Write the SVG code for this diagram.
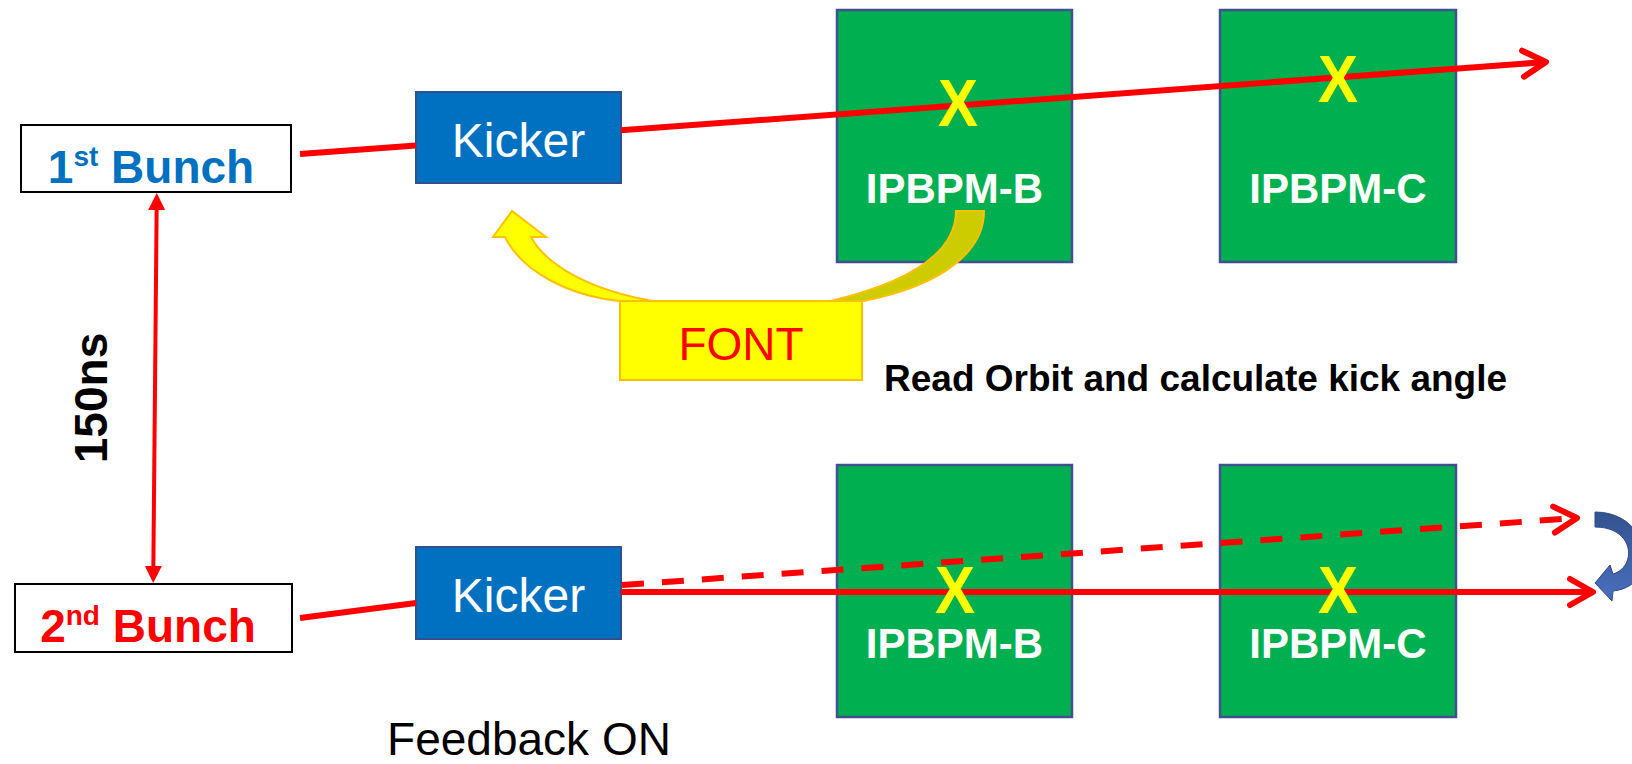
<svg xmlns="http://www.w3.org/2000/svg" width="1632" height="764" viewBox="0 0 1632 764">
<style>
.bunch{fill:#FFFFFF;stroke:#000000;stroke-width:2}
.kicker{fill:#0070C0;stroke:#2F528F;stroke-width:2}
.bpm{fill:#00B050;stroke:#41508F;stroke-width:2.5}
.ktxt{font-family:"Liberation Sans",Arial,sans-serif;font-size:48px;fill:#FFFFFF;text-anchor:middle}
.btxt{font-family:"Liberation Sans",Arial,sans-serif;font-size:42px;font-weight:bold;fill:#FFFFFF;text-anchor:middle}
.xm{font-family:"Liberation Sans",Arial,sans-serif;font-size:66px;font-weight:bold;fill:#FFFF00;text-anchor:middle}
.beam{stroke:#FF0000;stroke-width:6;fill:none}
.dash{stroke-dasharray:22 18}
.lbl{font-family:"Liberation Sans",Arial,sans-serif;fill:#000000}
</style>
<defs>
<marker id="chev" viewBox="-30 -20 40 40" markerWidth="40" markerHeight="40" refX="0" refY="0" orient="auto" markerUnits="userSpaceOnUse">
<path d="M-23,-13 L0,0 L-23,13" fill="none" stroke="#FF0000" stroke-width="6" stroke-dasharray="none" stroke-linecap="round" stroke-linejoin="round"/>
</marker>
<marker id="tri" viewBox="-2 -10 22 20" markerWidth="22" markerHeight="20" refX="7" refY="0" orient="auto-start-reverse" markerUnits="userSpaceOnUse">
<path d="M0,-8.5 L17,0 L0,8.5 Z" fill="#FF0000"/>
</marker>
<linearGradient id="blueg" x1="0" y1="0" x2="0" y2="1">
<stop offset="0" stop-color="#33528F"/>
<stop offset="1" stop-color="#4A6FBE"/>
</linearGradient>
</defs>

<g id="bunch1">
<rect class="bunch" x="21" y="125" width="270" height="67"/>
<text x="151" y="183" font-family="'Liberation Sans',Arial,sans-serif" font-size="46" font-weight="bold" fill="#0070C0" text-anchor="middle">1<tspan font-size="28" dy="-17">st</tspan><tspan dy="17"> Bunch</tspan></text>
</g>
<g id="bunch2">
<rect class="bunch" x="15" y="584" width="277" height="68"/>
<text x="148" y="642" font-family="'Liberation Sans',Arial,sans-serif" font-size="46" font-weight="bold" fill="#FF0000" text-anchor="middle">2<tspan font-size="28" dy="-17">nd</tspan><tspan dy="17"> Bunch</tspan></text>
</g>

<g id="kicker1">
<rect class="kicker" x="416" y="92" width="205" height="91"/>
<text class="ktxt" x="518.5" y="157">Kicker</text>
</g>
<g id="kicker2">
<rect class="kicker" x="416" y="547" width="205" height="92"/>
<text class="ktxt" x="518.5" y="612">Kicker</text>
</g>

<g id="ipbpm-b-1">
<rect class="bpm" x="837" y="10" width="235" height="252"/>
<text class="btxt" x="954.5" y="203">IPBPM-B</text>
</g>
<g id="ipbpm-c-1">
<rect class="bpm" x="1220" y="10" width="236" height="252"/>
<text class="btxt" x="1338" y="203">IPBPM-C</text>
</g>
<g id="ipbpm-b-2">
<rect class="bpm" x="837" y="465" width="235" height="252"/>
<text class="btxt" x="954.5" y="658">IPBPM-B</text>
</g>
<g id="ipbpm-c-2">
<rect class="bpm" x="1220" y="465" width="236" height="252"/>
<text class="btxt" x="1338" y="658">IPBPM-C</text>
</g>

<g id="connectors">
<line class="beam" x1="300" y1="154" x2="416" y2="145.4"/>
<line class="beam" x1="621" y1="130.3" x2="1546" y2="62" marker-end="url(#chev)"/>
<line class="beam" x1="300" y1="618" x2="416" y2="603"/>
<line class="beam" x1="621" y1="592" x2="1593" y2="592" marker-end="url(#chev)"/>
<line class="beam dash" x1="622" y1="585" x2="1577" y2="518" marker-end="url(#chev)"/>
<line x1="156.7" y1="203" x2="153.3" y2="573" stroke="#FF0000" stroke-width="4" marker-start="url(#tri)" marker-end="url(#tri)"/>
<path d="M1595,512 C1652,512 1662,586 1613,591 L1612,601 L1595,583 L1610,565 L1613,574 C1637,567 1635,527 1595,527 Z" fill="url(#blueg)" stroke="#2F4A85" stroke-width="1"/>
<path d="M956,211 L984,211 C984,250 945,285 863,301 L831,301 C905,283 956,255 956,211 Z" fill="#CCCC00" stroke="#FFC000" stroke-width="2"/>
<path d="M653,301 C595,291 548,268 531,237 L546,237 L512,211 L493,237 L505,237 C522,272 570,296 620,301 Z" fill="#FFFF00" stroke="#FFC000" stroke-width="2"/>
</g>

<g id="beam-marks">
<text class="xm" x="958" y="126" textLength="40" lengthAdjust="spacingAndGlyphs">X</text>
<text class="xm" x="1338" y="102" textLength="40" lengthAdjust="spacingAndGlyphs">X</text>
<text class="xm" x="955" y="613" textLength="40" lengthAdjust="spacingAndGlyphs">X</text>
<text class="xm" x="1338" y="613" textLength="40" lengthAdjust="spacingAndGlyphs">X</text>
</g>

<g id="font">
<rect x="620" y="301" width="242" height="79" fill="#FFFF00" stroke="#FFC000" stroke-width="2"/>
<text x="741" y="360" font-family="'Liberation Sans',Arial,sans-serif" font-size="46" fill="#FF0000" text-anchor="middle">FONT</text>
</g>

<g id="labels">
<text class="lbl" x="884" y="391" font-size="37" font-weight="bold">Read Orbit and calculate kick angle</text>
<text class="lbl" font-size="46" font-weight="bold" text-anchor="middle" transform="translate(107,398) rotate(-90)">150ns</text>
<text class="lbl" x="529" y="755" font-size="46" text-anchor="middle">Feedback ON</text>
</g>
</svg>
